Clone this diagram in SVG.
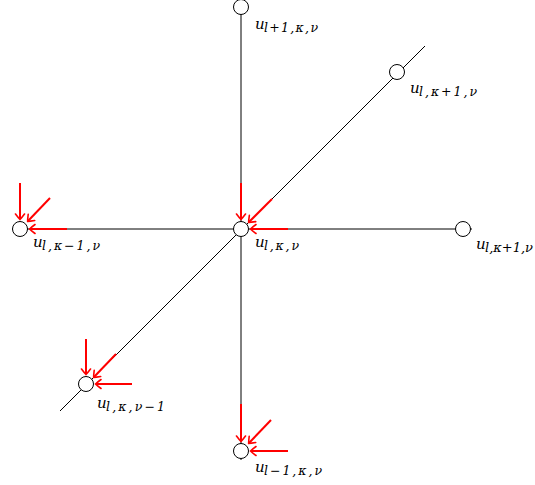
<svg xmlns="http://www.w3.org/2000/svg" width="535" height="485" viewBox="0 0 535 485">
<defs>
<marker id="ah" viewBox="-6 -6 8 12" markerWidth="8" markerHeight="12" refX="0" refY="0" orient="auto" markerUnits="userSpaceOnUse">
<path d="M -5,-4.5 Q -1,-1.5 0.5,0 Q -1,1.5 -5,4.5" fill="none" stroke="#ff0000" stroke-width="1.6" stroke-linecap="round"/>
</marker>
</defs>
<style>
.ln{stroke:#000;stroke-width:1;fill:none}
.nd{fill:#fff;stroke:#000;stroke-width:1}
.ar{stroke:#ff0000;stroke-width:2;fill:none;marker-end:url(#ah)}
.lb{font-family:"DejaVu Serif","Liberation Serif",serif;font-style:italic;font-size:15px;fill:#000}
.sb{font-size:12.5px}
</style>
<g id="connectors">
<line class="ln" x1="241" y1="7" x2="241" y2="460"/>
<line class="ln" x1="12" y1="229" x2="472" y2="229"/>
<line class="ln" x1="60" y1="411" x2="425" y2="46"/>
</g>
<g id="arrows">
<line class="ar" x1="241" y1="183" x2="241" y2="219"/>
<line class="ar" x1="272" y1="199" x2="249" y2="222"/>
<line class="ar" x1="288" y1="229" x2="251" y2="229"/>
<line class="ar" x1="20" y1="183" x2="20" y2="219"/>
<line class="ar" x1="50" y1="198" x2="28" y2="221"/>
<line class="ar" x1="67" y1="229" x2="30" y2="229"/>
<line class="ar" x1="86" y1="339" x2="86" y2="374"/>
<line class="ar" x1="116" y1="354" x2="94" y2="377"/>
<line class="ar" x1="132" y1="384" x2="96" y2="384"/>
<line class="ar" x1="241" y1="404" x2="241" y2="441"/>
<line class="ar" x1="271" y1="420" x2="249" y2="443"/>
<line class="ar" x1="288" y1="451" x2="251" y2="451"/>
</g>
<g id="n-top"><circle class="nd" cx="241" cy="7" r="7.5"/><text class="lb" x="255" y="29">u<tspan class="sb" x="264" y="32" textLength="54" lengthAdjust="spacing">l+1,κ,ν</tspan></text></g>
<g id="n-diag-up"><circle class="nd" cx="397" cy="72" r="7.5"/><text class="lb" x="410" y="93">u<tspan class="sb" x="419" y="96" textLength="58" lengthAdjust="spacing">l,κ+1,ν</tspan></text></g>
<g id="n-left"><circle class="nd" cx="20" cy="229" r="7.5"/><text class="lb" x="33" y="247">u<tspan class="sb" x="42" y="250" textLength="58" lengthAdjust="spacing">l,κ−1,ν</tspan></text></g>
<g id="n-center"><circle class="nd" cx="241" cy="229" r="7.5"/><text class="lb" x="255" y="247">u<tspan class="sb" x="264" y="250" textLength="35" lengthAdjust="spacing">l,κ,ν</tspan></text></g>
<g id="n-right"><circle class="nd" cx="463" cy="229" r="7.5"/><text class="lb" x="476" y="249">u<tspan class="sb" x="485" y="252" textLength="48" lengthAdjust="spacingAndGlyphs">l,κ+1,ν</tspan></text></g>
<g id="n-diag-down"><circle class="nd" cx="86" cy="384" r="7.5"/><text class="lb" x="97" y="408">u<tspan class="sb" x="106" y="411" textLength="59" lengthAdjust="spacing">l,κ,ν−1</tspan></text></g>
<g id="n-bottom"><circle class="nd" cx="241" cy="451" r="7.5"/><text class="lb" x="255" y="472">u<tspan class="sb" x="264" y="475" textLength="58" lengthAdjust="spacing">l−1,κ,ν</tspan></text></g>
</svg>
